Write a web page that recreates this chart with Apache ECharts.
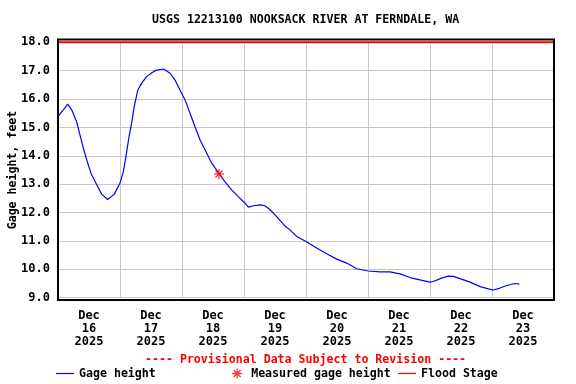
<!DOCTYPE html>
<html>
<head>
<meta charset="utf-8">
<script src="https://cdn.jsdelivr.net/npm/echarts@6/dist/echarts.min.js"></script>
<style>
  html, body { margin: 0; padding: 0; background: #ffffff; }
  #chart { width: 576px; height: 384px; }
</style>
</head>
<body>
<div id="chart"></div>
<script>
// ---- Data (hours since 2025-12-16 00:00, gage height in feet) ----
const titleText = 'USGS 12213100 NOOKSACK RIVER AT FERNDALE, WA';
const hoursSinceDec16 = [0, 1.5, 2.6, 3.75, 5.3, 7.2, 8.5, 9.8, 11.3, 13.0, 15.0, 16.9, 19.2, 21.8, 24.0, 25.3, 26.2, 27.5, 28.5, 29.5, 30.9, 32.4, 34.3, 36.3, 38.2, 40.8, 43.4, 45.3, 47.2, 49.2, 51.1, 53.0, 55.0, 56.9, 59.5, 62.3, 64.6, 67.2, 69.8, 72.4, 73.7, 75.6, 78.2, 80.1, 82.1, 84.0, 85.5, 87.8, 89.8, 92.4, 96.0, 100.1, 104.0, 107.9, 111.8, 115.6, 120.1, 124.6, 128.5, 132.4, 136.3, 140.1, 144.0, 145.3, 148.5, 151.1, 153.0, 155.6, 159.5, 163.4, 166.6, 168.5, 171.1, 173.7, 176.9, 178.6];
const gageHeightFt = [15.38, 15.56, 15.68, 15.82, 15.62, 15.2, 14.74, 14.27, 13.8, 13.33, 12.98, 12.65, 12.46, 12.65, 13.04, 13.44, 13.92, 14.68, 15.15, 15.73, 16.32, 16.56, 16.79, 16.93, 17.02, 17.06, 16.91, 16.67, 16.32, 15.97, 15.5, 15.03, 14.56, 14.21, 13.74, 13.38, 13.09, 12.8, 12.56, 12.33, 12.19, 12.24, 12.27, 12.24, 12.1, 11.92, 11.77, 11.53, 11.39, 11.16, 10.98, 10.75, 10.55, 10.36, 10.22, 10.02, 9.94, 9.91, 9.91, 9.84, 9.71, 9.63, 9.55, 9.57, 9.69, 9.76, 9.75, 9.67, 9.55, 9.39, 9.31, 9.27, 9.34, 9.43, 9.5, 9.48];
const measuredHours = [62.3];
const measuredHeightFt = [13.36];
const floodStageFt = 18.0;
const floodStageHours = [0, 192];
const dayLabels = ['Dec\n16\n2025', 'Dec\n17\n2025', 'Dec\n18\n2025', 'Dec\n19\n2025', 'Dec\n20\n2025', 'Dec\n21\n2025', 'Dec\n22\n2025', 'Dec\n23\n2025'];
const yMin = 9, yMax = 18, yStep = 1;
const xMin = 0, xMax = 192, xStep = 24;
const provisionalText = '---- Provisional Data Subject to Revision ----';
const seriesNames = ['Gage height', 'Measured gage height', 'Flood Stage'];

const FONT = '"DejaVu Sans Mono", "Liberation Mono", monospace';
const FS = 11.6;
const asterisk = 'path://M5,0L5,10M0,5L10,5M1.5,1.5L8.5,8.5M8.5,1.5L1.5,8.5';
// thin horizontal bar inside an 18x10 box (the moveTo points only set the box)
const lineIcon = 'path://M0,0M18,10M0,4.4H18V5.6H0Z';
const legendText = { fontFamily: FONT, fontWeight: 'bold', fontSize: FS, color: '#000' };

const chart = echarts.init(document.getElementById('chart'), null, { renderer: 'canvas' });
chart.setOption({
  animation: false,
  backgroundColor: '#ffffff',
  title: [
    { text: titleText, left: 152, top: 14, padding: 0,
      textStyle: { fontFamily: FONT, fontWeight: 'bold', fontSize: FS, color: '#000' } },
    { text: provisionalText, left: 145, top: 354, padding: 0,
      textStyle: { fontFamily: FONT, fontWeight: 'bold', fontSize: FS, color: '#ff0000' } }
  ],
  grid: [
    { left: 58, right: 22, top: 42.3, bottom: 86.3, show: false, outerBoundsMode: 'none', containLabel: false },
    { left: 58, right: 22, top: 39.5, bottom: 84, show: true, borderColor: '#000', borderWidth: 2,
      backgroundColor: 'transparent', z: 5, outerBoundsMode: 'none', containLabel: false }
  ],
  xAxis: [
    { type: 'value', gridIndex: 0, min: xMin, max: xMax, interval: xStep,
      axisLine: { show: false }, axisTick: { show: false }, axisLabel: { show: false },
      splitLine: { show: true, lineStyle: { color: '#c8c8c8', width: 1 } } },
    { type: 'category', gridIndex: 1, data: dayLabels, boundaryGap: true,
      axisLine: { show: false }, axisTick: { show: false }, splitLine: { show: false },
      axisLabel: { margin: 9, interval: 0, fontFamily: FONT, fontWeight: 'bold', fontSize: 12, color: '#000', lineHeight: 13 } }
  ],
  yAxis: [
    { type: 'value', gridIndex: 0, min: yMin, max: yMax, interval: yStep,
      name: 'Gage height, feet', nameLocation: 'middle', nameGap: 39, nameMoveOverlap: false,
      nameTextStyle: { fontFamily: FONT, fontWeight: 'bold', fontSize: FS, color: '#000' },
      axisLine: { show: false }, axisTick: { show: false },
      axisLabel: { margin: 8, formatter: v => v.toFixed(1), fontFamily: FONT, fontWeight: 'bold', fontSize: 12, color: '#000' },
      splitLine: { show: true, lineStyle: { color: '#c8c8c8', width: 1 } } },
    { type: 'value', gridIndex: 1, show: false, min: 0, max: 1, splitLine: { show: false } }
  ],
  legend: [
    { data: [{ name: seriesNames[0], icon: lineIcon, itemStyle: { color: '#0000ff', borderWidth: 0 } }], left: 56, top: 367.5, padding: 0,
      itemWidth: 18, itemHeight: 10, textStyle: legendText, selectedMode: false },
    { data: [{ name: seriesNames[1], icon: asterisk, itemStyle: { color: 'rgba(0,0,0,0)', borderColor: '#ff0000', borderWidth: 1.3 } }],
      left: 231.5, top: 367.5, padding: 0, itemWidth: 10, itemHeight: 10,
      textStyle: Object.assign({ padding: [0, 0, 0, 4] }, legendText), selectedMode: false },
    { data: [{ name: seriesNames[2], icon: lineIcon, itemStyle: { color: '#ff0000', borderWidth: 0 } }], left: 398, top: 367.5, padding: 0,
      itemWidth: 18, itemHeight: 10, textStyle: legendText, selectedMode: false }
  ],
  series: [
    { name: seriesNames[0], type: 'line', xAxisIndex: 0, yAxisIndex: 0,
      data: hoursSinceDec16.map((h, i) => [h, gageHeightFt[i]]),
      symbol: 'none', smooth: false, lineStyle: { color: '#0000ff', width: 1.2 }, itemStyle: { color: '#0000ff' }, z: 3 },
    { name: seriesNames[1], type: 'scatter', xAxisIndex: 0, yAxisIndex: 0,
      data: measuredHours.map((h, i) => [h, measuredHeightFt[i]]),
      symbol: asterisk, symbolSize: 10,
      itemStyle: { color: 'rgba(0,0,0,0)', borderColor: '#ff0000', borderWidth: 1.3 }, z: 4 },
    { name: seriesNames[2], type: 'line', xAxisIndex: 0, yAxisIndex: 0, clip: false,
      data: floodStageHours.map(h => [h, floodStageFt]),
      symbol: 'none', lineStyle: { color: '#ff0000', width: 2 }, itemStyle: { color: '#ff0000' }, z: 4 }
  ]
});
</script>
</body>
</html>
